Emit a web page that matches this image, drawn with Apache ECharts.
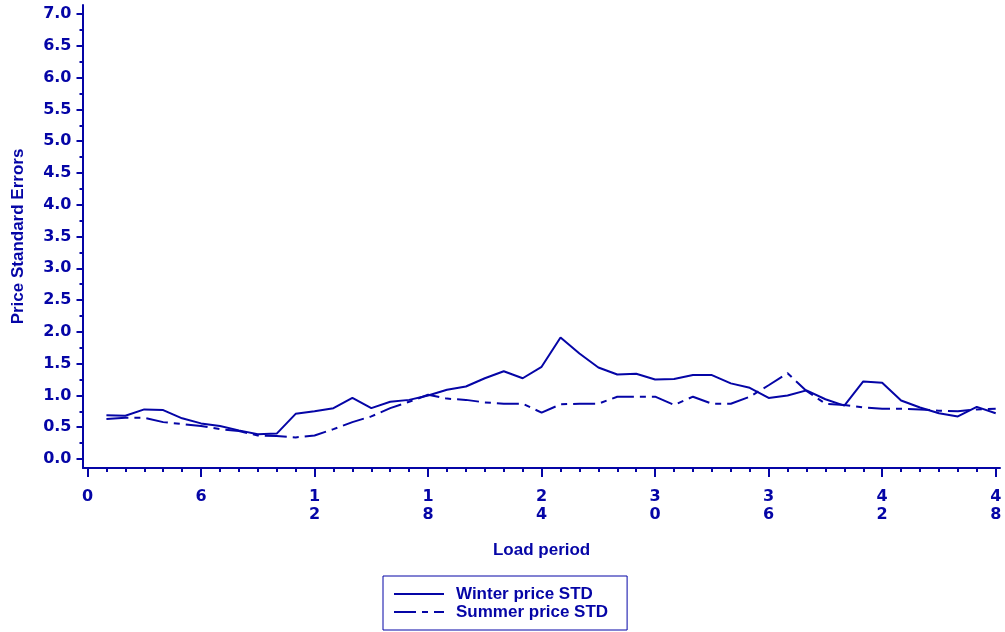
<!DOCTYPE html>
<html>
<head>
<meta charset="utf-8">
<title>Price Standard Errors by Load period</title>
<script src="https://cdn.jsdelivr.net/npm/echarts@6/dist/echarts.min.js"></script>
<style>
  html, body { margin: 0; padding: 0; background: #ffffff; }
  #chart { width: 1005px; height: 632px; }
</style>
</head>
<body>
<div id="chart"></div>
<script>
// Load periods 1..48
const periods = [];
for (let p = 1; p <= 48; p++) periods.push(p);

// Standard errors of winter prices per load period
const winterStd = [
  0.69, 0.68, 0.78, 0.77, 0.64, 0.56, 0.52, 0.45, 0.39, 0.40,
  0.71, 0.75, 0.80, 0.96, 0.80, 0.90, 0.93, 1.00, 1.09, 1.14,
  1.27, 1.38, 1.27, 1.45, 1.91, 1.66, 1.44, 1.33, 1.34, 1.25,
  1.26, 1.32, 1.32, 1.19, 1.12, 0.96, 1.00, 1.08, 0.94, 0.84,
  1.22, 1.20, 0.92, 0.81, 0.72, 0.67, 0.82, 0.72
];

// Standard errors of summer prices per load period
const summerStd = [
  0.63, 0.65, 0.65, 0.58, 0.55, 0.52, 0.47, 0.44, 0.37, 0.36,
  0.34, 0.37, 0.47, 0.58, 0.67, 0.80, 0.90, 1.01, 0.95, 0.93,
  0.89, 0.87, 0.87, 0.73, 0.86, 0.87, 0.87, 0.98, 0.98, 0.98,
  0.85, 0.98, 0.87, 0.87, 0.98, 1.16, 1.35, 1.07, 0.87, 0.85,
  0.81, 0.79, 0.79, 0.78, 0.76, 0.75, 0.78, 0.79
];

const seriesNames = ['Winter price STD', 'Summer price STD'];
const xTitle = 'Load period';
const yTitle = 'Price Standard Errors';

const ink = '#0505a6';
const numFont = 'DejaVu Sans';
const textFont = 'Liberation Sans';

const pairs = (ys) => periods.map((p, i) => [p, ys[i]]);

const chart = echarts.init(document.getElementById('chart'), null, { renderer: 'canvas' });

// Frame axis: only draws the long axis line of the second grid
const frameAxis = (gridIndex, position) => ({
  type: 'value', gridIndex, position, min: 0, max: 1,
  axisLine: { show: true, onZero: false, lineStyle: { color: ink, width: 2 } },
  axisTick: { show: false }, axisLabel: { show: false }, splitLine: { show: false }
});

chart.setOption({
  animation: false,
  backgroundColor: '#ffffff',
  grid: [
    // plotting area
    { left: 87.5, right: 9.3, top: 14, bottom: 173, containLabel: false },
    // outer frame whose left/bottom edges carry the axis lines
    { left: 83, right: 5, top: 5, bottom: 164, containLabel: false }
  ],
  xAxis: [
    {
      type: 'value', gridIndex: 0, min: 0, max: 48, interval: 6, offset: 9, position: 'bottom',
      name: xTitle, nameLocation: 'middle', nameGap: 74,
      nameTextStyle: { color: ink, fontFamily: textFont, fontWeight: 'bold', fontSize: 17 },
      axisLine: { show: false, onZero: false },
      axisTick: { show: true, length: 9, lineStyle: { color: ink, width: 2 } },
      minorTick: { show: true, splitNumber: 6, length: 4, lineStyle: { color: ink, width: 2 } },
      splitLine: { show: false },
      axisLabel: {
        color: ink, fontFamily: numFont, fontWeight: 'bold', fontSize: 16,
        lineHeight: 18, margin: 20,
        formatter: (v) => String(v).split('').join('\n')
      }
    },
    frameAxis(1, 'bottom')
  ],
  yAxis: [
    {
      type: 'value', gridIndex: 0, min: 0, max: 7, interval: 0.5, offset: 5, position: 'left',
      name: yTitle, nameLocation: 'middle', nameGap: 56, nameRotate: 90,
      nameTextStyle: { color: ink, fontFamily: textFont, fontWeight: 'bold', fontSize: 17 },
      axisLine: { show: false, onZero: false },
      axisTick: { show: true, length: 6, lineStyle: { color: ink, width: 2 } },
      minorTick: { show: true, splitNumber: 2, length: 3, lineStyle: { color: ink, width: 2 } },
      splitLine: { show: false },
      axisLabel: {
        color: ink, fontFamily: numFont, fontWeight: 'bold', fontSize: 16, margin: 11,
        formatter: (v) => v.toFixed(1)
      }
    },
    frameAxis(1, 'left')
  ],
  legend: {
    orient: 'vertical', left: 383, top: 576,
    padding: [9, 19, 9, 10],
    borderColor: ink, borderWidth: 1,
    itemWidth: 50, itemHeight: 10, itemGap: 0,
    data: seriesNames,
    itemStyle: { opacity: 0 },
    textStyle: {
      color: ink, fontFamily: textFont, fontWeight: 'bold', fontSize: 17,
      lineHeight: 18, padding: [0, 0, 0, 7]
    }
  },
  series: [
    {
      name: seriesNames[0], type: 'line', xAxisIndex: 0, yAxisIndex: 0,
      data: pairs(winterStd), symbol: 'none',
      lineStyle: { color: ink, width: 2, type: 'solid' },
      itemStyle: { color: ink }
    },
    {
      name: seriesNames[1], type: 'line', xAxisIndex: 0, yAxisIndex: 0,
      data: pairs(summerStd), symbol: 'none',
      lineStyle: { color: ink, width: 2, type: [22, 6, 6, 6] },
      itemStyle: { color: ink }
    }
  ]
});
</script>
</body>
</html>
